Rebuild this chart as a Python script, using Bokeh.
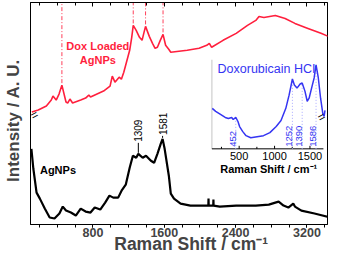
import numpy as np
from math import pi
from bokeh.plotting import figure
from bokeh.models import Range1d, LinearAxis, FixedTicker, Label
from bokeh.embed import file_html
from bokeh.resources import INLINE
from bokeh.core.properties import value

FONT = "Liberation Sans"
RED = "#ff1f3d"
BLUE = "#3535f2"
NB = "\u00a0"

# ---- main spectra (Raman shift cm-1, intensity a.u.) ----
red_x = [115, 187, 278, 333, 352, 388, 420, 452, 498, 517, 542, 572, 663, 718, 754, 773,
         846, 919, 992, 1017, 1047, 1094, 1119, 1146, 1176, 1212, 1235, 1252, 1285, 1322, 1351, 1370,
         1390, 1432, 1468, 1497, 1523, 1555, 1586, 1615, 1650, 1673, 1857, 1990, 2076, 2105, 2131, 2259,
         2406, 2533, 2626, 2662, 2717, 2845, 2955, 3065, 3211, 3357, 3465]
red_y = [118, 120, 124, 130, 134, 130, 136, 145, 128, 127, 131, 127, 130, 132, 135, 133,
         136, 139, 144, 154, 148, 153, 151, 158, 168, 180, 193, 205, 200, 193, 190, 197,
         204, 194, 187, 182, 183, 190, 196, 185, 181, 178, 180, 182, 185, 187, 183, 190,
         197, 205, 210, 214, 213, 215, 212, 207, 202, 197, 193]
black_x = [110, 132, 168, 205, 260, 315, 369, 424, 462, 498, 553, 608, 663, 718, 773, 820,
           882, 937, 985, 1028, 1083, 1121, 1168, 1212, 1248, 1285, 1309, 1358, 1395, 1450, 1486, 1523,
           1560, 1581, 1604, 1651, 1673, 1709, 1783, 1893, 2000, 2094, 2096, 2098, 2149, 2151, 2153, 2222,
           2406, 2626, 2772, 2845, 2882, 2937, 2991, 3046, 3065, 3137, 3284, 3465]
black_y = [81, 61, 37, 31, 21, 12, 11, 16, 23, 19, 17, 14, 21, 18, 17, 22,
           20, 27, 34, 32, 32, 39, 45, 62, 74, 72, 76, 72, 74, 69, 67, 76,
           86, 91, 81, 54, 36, 31, 26, 24, 24, 24, 31, 24, 24, 30, 24, 23,
           24, 24, 25, 27, 28, 24, 22, 26, 23, 19, 16, 12]
red_peaks = [452, 1252, 1390, 1586]
black_peaks = [1309, 1581]
main_ticks = [800, 1600, 2400, 3200]
main_minor = list(range(200, 3600, 200))

# ---- inset: Doxorubicin HCl ----
dox_x = [120, 168, 236, 303, 348, 394, 416, 452, 483, 506, 551, 597, 664, 753, 844, 934,
         1023, 1091, 1159, 1205, 1252, 1280, 1317, 1361, 1390, 1429, 1461, 1488, 1530, 1559, 1586, 1618,
         1650, 1681, 1700, 1712]
dox_y = [40, 37, 34, 31, 30, 31, 29, 31, 27, 22, 17, 13, 11, 12, 13, 16,
         22, 28, 40, 53, 69, 63, 60, 64, 65, 57, 47, 50, 62, 70, 83, 70,
         50, 35, 32, 38]
dox_peaks = [452, 1252, 1390, 1586]
inset_ticks = [500, 1000, 1500]
inset_minor = [250, 750, 1250]

# ---- layout constants ----
MAIN_XR = (100, 3430)
MAIN_YR = (5, 228)
INSET_XR = (115, 1720)
INSET_YR = (0, 88)
INSET_BOX_X = (2134, 3408)   # where the inset sits, in main-plot coordinates
INSET_BOX_Y = (81, 170.5)
black_label_gap = [12, 4]

# ================= main figure =================
p = figure(width=328, height=256, output_backend="svg", toolbar_location=None,
           x_range=Range1d(*MAIN_XR), y_range=Range1d(*MAIN_YR),
           min_border_left=29, min_border_right=1, min_border_top=2, min_border_bottom=0)
p.grid.visible = False
p.outline_line_color = "black"
p.outline_line_width = 1

xa = p.xaxis[0]
xa.ticker = FixedTicker(ticks=main_ticks, minor_ticks=main_minor)
xa.major_tick_out = 3
xa.major_tick_in = 0
xa.minor_tick_out = 3
xa.minor_tick_in = 0
xa.major_label_standoff = 0
xa.major_label_text_font = FONT
xa.major_label_text_font_style = "bold"
xa.major_label_text_font_size = "12.5px"
xa.axis_label = NB * 5 + "Raman Shift / cm\u207b\u00b9"
xa.axis_label_text_font = FONT
xa.axis_label_text_font_style = "bold"
xa.axis_label_text_font_size = "17.5px"
xa.axis_label_standoff = -6

top = LinearAxis(ticker=FixedTicker(ticks=main_ticks, minor_ticks=main_minor),
                 major_label_overrides={t: "" for t in main_ticks},
                 major_label_text_font_size="1px", major_label_standoff=0,
                 major_tick_in=4, major_tick_out=0, minor_tick_in=3, minor_tick_out=0)
p.add_layout(top, "above")

ya = p.yaxis[0]
ya.ticker = FixedTicker(ticks=[])
ya.major_tick_out = 0
ya.major_tick_in = 0
ya.minor_tick_out = 0
ya.major_label_standoff = 0
ya.axis_label = "Intensity / A. U." + NB * 3
ya.axis_label_text_font = FONT
ya.axis_label_text_font_style = "bold"
ya.axis_label_text_font_size = "17px"
ya.axis_label_standoff = 8

# red dash-dot markers from peaks to top
rp_y = np.interp(red_peaks, red_x, red_y)
p.segment(x0=red_peaks, y0=rp_y + 2, x1=red_peaks, y1=[MAIN_YR[1]] * len(red_peaks),
          line_color=RED, line_width=1, line_dash="4 2 1 2", line_alpha=0.85)

p.line(red_x, red_y, line_color=RED, line_width=1.6)
p.line(black_x, black_y, line_color="black", line_width=2.2)

bp_y = np.interp(black_peaks, black_x, black_y)
lab_y = bp_y + np.array(black_label_gap)
p.segment(x0=black_peaks, y0=bp_y + 1, x1=black_peaks, y1=lab_y - 1,
          line_color="black", line_width=1)
p.text(x=black_peaks, y=lab_y, text=[str(v) for v in black_peaks], angle=pi / 2,
       text_align="left", text_baseline="middle", text_font=value(FONT),
       text_font_size="10px", text_color="black")

p.add_layout(Label(x=855, y=184, text="Dox Loaded", text_align="center", text_baseline="middle",
                   text_font=FONT, text_font_style="bold", text_font_size="11px", text_color=RED))
p.add_layout(Label(x=855, y=170, text="AgNPs", text_align="center", text_baseline="middle",
                   text_font=FONT, text_font_style="bold", text_font_size="11px", text_color=RED))
p.add_layout(Label(x=408, y=60, text="AgNPs", text_align="center", text_baseline="middle",
                   text_font=FONT, text_font_style="bold", text_font_size="11px", text_color="black"))
for bx, by, off in ((MAIN_XR[0], 115, 4), (MAIN_XR[1], 113, -6)):
    p.add_layout(Label(x=bx, y=by, x_offset=off, text="=", angle=0.5, text_align="center",
                       text_baseline="middle", text_font=FONT, text_font_size="12px",
                       text_color="black"))

# ================= inset (sub-coordinates inside the main frame) =================
ins = p.subplot(x_source=Range1d(*INSET_XR), y_source=Range1d(*INSET_YR),
                x_target=Range1d(*INSET_BOX_X), y_target=Range1d(*INSET_BOX_Y))

ins.segment(x0=[INSET_XR[0]], y0=[INSET_YR[0]], x1=[INSET_XR[0]], y1=[INSET_YR[1]],
            line_color="#c4c4c4", line_width=1)
ins.segment(x0=[INSET_XR[0]], y0=[INSET_YR[0]], x1=[1690], y1=[INSET_YR[0]],
            line_color="black", line_width=1)
ins.segment(x0=inset_ticks, y0=[0] * 3, x1=inset_ticks, y1=[3] * 3, line_color="black", line_width=1)
ins.segment(x0=inset_minor, y0=[0] * 3, x1=inset_minor, y1=[2] * 3, line_color="black", line_width=1)
ins.text(x=inset_ticks, y=[-3] * 3, text=[str(t) for t in inset_ticks], text_align="center",
         text_baseline="top", text_font=value(FONT), text_font_size="11px", text_color="black")
ins.text(x=[sum(INSET_XR) / 2], y=[-20], text=["Raman Shift / cm\u207b\u00b9"], text_align="center",
         text_baseline="middle", text_font=value(FONT), text_font_style="bold",
         text_font_size="11px", text_color="black")

dp_y = np.interp(dox_peaks, dox_x, dox_y)
ins.segment(x0=dox_peaks, y0=[0] * len(dox_peaks), x1=dox_peaks, y1=dp_y,
            line_color="#a8a8ff", line_width=1, line_dash="1 2")
ins.line(dox_x, dox_y, line_color=BLUE, line_width=1.5)
ins.text(x=dox_peaks, y=[2] * len(dox_peaks), text=[str(v) for v in dox_peaks], angle=pi / 2,
         text_align="left", text_baseline="bottom", text_font=value(FONT),
         text_font_size="9.5px", text_color=BLUE)
ins.text(x=[195], y=[79], text=["Doxorubicain HCI"], text_align="left", text_baseline="middle",
         text_font=value(FONT), text_font_size="12.5px", text_color=BLUE)

open("out.html", "w").write(file_html(p, INLINE))
